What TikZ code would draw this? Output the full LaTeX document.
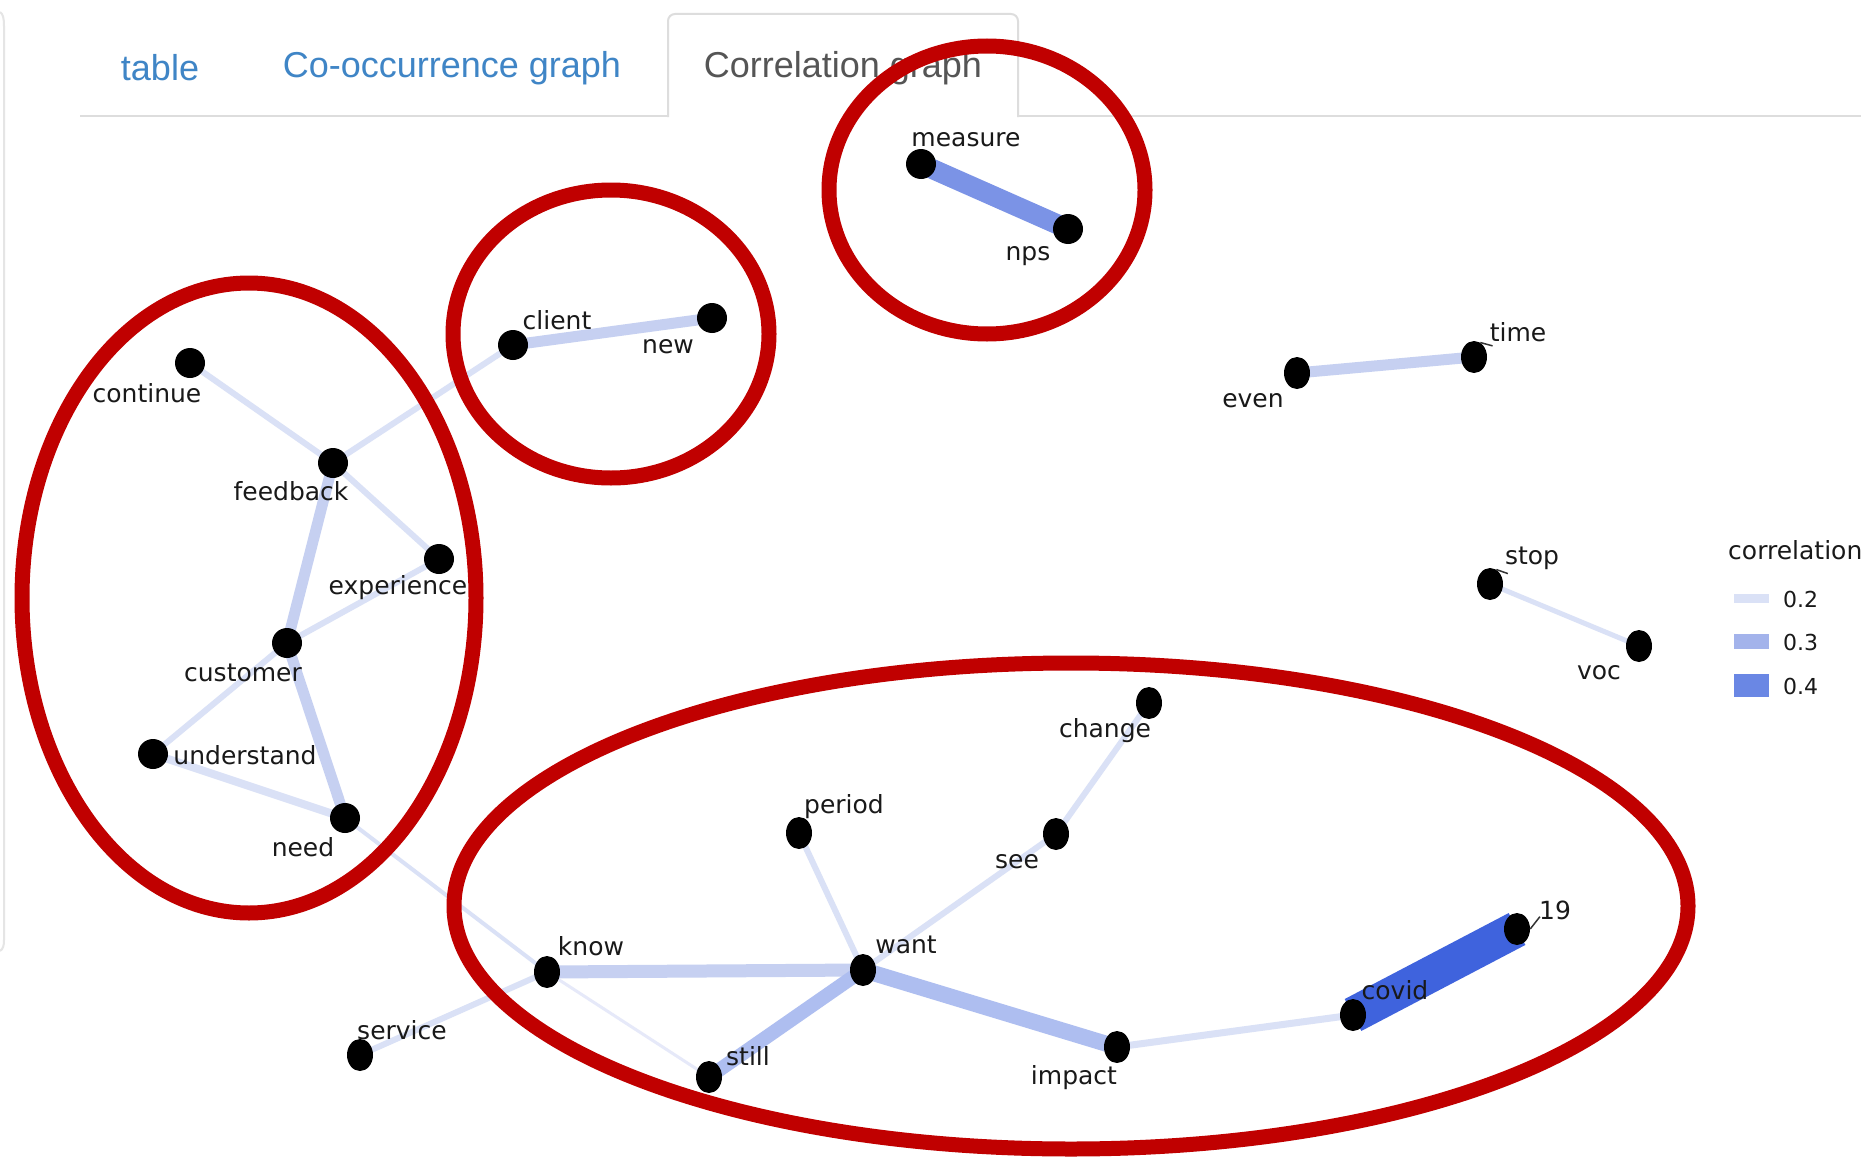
\documentclass[tikz,border=0pt]{standalone}
\usepackage{fontspec}
\setmainfont{DejaVu Sans}
\newfontfamily\tabfont{Liberation Sans}
\usetikzlibrary{backgrounds,shapes.geometric}
\definecolor{ringred}{HTML}{C00000}
\definecolor{cA}{HTML}{E6E9F9}
\definecolor{cB}{HTML}{DAE1F6}
\definecolor{cC}{HTML}{C6D0F1}
\definecolor{cD}{HTML}{AEBEF0}
\definecolor{cE}{HTML}{7B93E6}
\definecolor{cF}{HTML}{3F63DD}
\definecolor{legB}{HTML}{A3B3EB}
\definecolor{legC}{HTML}{6A87E4}
\definecolor{tabblue}{HTML}{3F85C6}
\definecolor{tabgrey}{HTML}{555555}
\definecolor{tabline}{HTML}{DDDDDD}
\begin{document}
\begin{tikzpicture}[x=1pt,y=-1pt,
  dot/.style={circle,fill=black,inner sep=0pt,minimum size=30pt},
  edot/.style={ellipse,fill=black,inner sep=0pt,minimum width=26pt,minimum height=32pt},
  lbl/.style={font=\fontsize{25}{29}\selectfont,text=black!90,inner sep=0pt},
  tab/.style={font=\tabfont\fontsize{36}{42}\selectfont,inner sep=0pt},
  ring/.style={draw=ringred,line width=15pt},
  eA/.style={draw=cA,line width=3pt},
  eB/.style={draw=cB,line width=6pt},
  eC/.style={draw=cC,line width=11pt},
  eD/.style={draw=cD,line width=15pt},
  eE/.style={draw=cE,line width=20pt},
  eF/.style={draw=cF,line width=36pt},
  leader/.style={draw=black!80,line width=1.5pt}]
\useasboundingbox (0,0) rectangle (1861,1164);

% left panel edge
\draw[draw=black!10,line width=2pt] (0,12) .. controls (3,14) and (4,18) .. (4,26) -- (4,940) .. controls (4,946) and (3,949) .. (0,951);

% tabs
\draw[tabline,line width=2pt] (80,116) -- (668,116);
\draw[tabline,line width=2pt] (1018,116) -- (1861,116);
\draw[tabline,line width=2pt,rounded corners=7pt] (668,117) -- (668,14) -- (1018,14) -- (1018,117);
\node[tab,text=tabblue] (t1) at (160,68) {table};
\node[tab,text=tabblue] (t2) at (452,68) {Co-occurrence graph};
\node[tab,text=tabgrey] (t3) at (843,68) {Correlation graph};

% nodes
\node[dot] (continue) at (190,363) {};
\node[dot] (feedback) at (333,463) {};
\node[dot] (experience) at (439,559) {};
\node[dot] (customer) at (287,643) {};
\node[dot] (understand) at (153,754) {};
\node[dot] (need) at (345,818) {};
\node[dot] (client) at (513,345) {};
\node[dot] (new) at (712,318) {};
\node[dot] (measure) at (921,164) {};
\node[dot] (nps) at (1068,229) {};
\node[edot] (even) at (1297,373) {};
\node[edot] (time) at (1474,357) {};
\node[edot] (stop) at (1490,584) {};
\node[edot] (voc) at (1639,646) {};
\node[edot] (change) at (1149,703) {};
\node[edot] (period) at (799,833) {};
\node[edot] (see) at (1056,834) {};
\node[edot] (want) at (863,970) {};
\node[edot] (know) at (547,972) {};
\node[edot] (service) at (360,1055) {};
\node[edot] (still) at (709,1077) {};
\node[edot] (impact) at (1117,1047) {};
\node[edot] (covid) at (1353,1015) {};
\node[edot] (n19) at (1517,929) {};

% edges
\begin{pgfonlayer}{background}
\fill[white] (0,0) rectangle (1861,1164);
\draw[eB] (continue.center) -- (feedback.center);
\draw[eB] (feedback.center) -- (client.center);
\draw[eB] (feedback.center) -- (experience.center);
\draw[eC] (feedback.center) -- (customer.center);
\draw[eB] (customer.center) -- (experience.center);
\draw[eB] (customer.center) -- (understand.center);
\draw[eC] (customer.center) -- (need.center);
\draw[eB,line width=8pt] (understand.center) -- (need.center);
\draw[eB,line width=4pt] (need.center) -- (know.center);
\draw[eC] (client.center) -- (new.center);
\draw[eE] (measure.center) -- (nps.center);
\draw[eC] (even.center) -- (time.center);
\draw[eB,line width=5pt] (stop.center) -- (voc.center);
\draw[eB] (change.center) -- (see.center);
\draw[eB] (see.center) -- (want.center);
\draw[eB] (period.center) -- (want.center);
\draw[eC,line width=13pt] (know.center) -- (want.center);
\draw[eB] (know.center) -- (service.center);
\draw[eA] (know.center) -- (still.center);
\draw[eD,line width=14pt] (want.center) -- (still.center);
\draw[eD,line width=16pt] (want.center) -- (impact.center);
\draw[eB,line width=7pt] (impact.center) -- (covid.center);
\draw[eF] (covid.center) -- (n19.center);
\end{pgfonlayer}

% labels
\node[lbl] (l-continue) at (147,393) {continue};
\node[lbl] (l-feedback) at (291,491) {feedback};
\node[lbl] (l-experience) at (398,588) {experience};
\node[lbl] (l-customer) at (243,673) {customer};
\node[lbl] (l-understand) at (245,755) {understand};
\node[lbl] (l-need) at (303,847) {need};
\node[lbl] (l-client) at (557,320) {client};
\node[lbl] (l-new) at (668,347) {new};
\node[lbl] (l-measure) at (966,140) {measure};
\node[lbl] (l-nps) at (1028,256) {nps};
\node[lbl] (l-even) at (1253,401) {even};
\node[lbl] (l-time) at (1518,332) {time};
\node[lbl] (l-stop) at (1532,558) {stop};
\node[lbl] (l-voc) at (1599,673) {voc};
\node[lbl] (l-change) at (1105,731) {change};
\node[lbl] (l-period) at (844,807) {period};
\node[lbl] (l-see) at (1017,862) {see};
\node[lbl] (l-want) at (906,945) {want};
\node[lbl] (l-know) at (591,946) {know};
\node[lbl] (l-service) at (402,1030) {service};
\node[lbl] (l-still) at (748,1056) {still};
\node[lbl] (l-impact) at (1074,1078) {impact};
\node[lbl] (l-covid) at (1395,990) {covid};
\node[lbl] (l-19) at (1555,910) {19};

% leader ticks
\draw[leader] ([shift={(-3,-3)}]time.north east) -- ([shift={(3,4)}]l-time.south west);
\draw[leader] ([shift={(-3,-3)}]stop.north east) -- ([shift={(3,4)}]l-stop.south west);
\draw[leader] (n19.east) -- ([shift={(1,-3)}]l-19.south west);

% legend
\node[lbl,anchor=west] (leg) at (1728,550) {correlation};
\fill[cB] (1734,594) rectangle (1769,603);
\fill[legB] (1734,634) rectangle (1769,649);
\fill[legC] (1734,674) rectangle (1769,697);
\node[lbl,anchor=west,font=\fontsize{22}{26}\selectfont] (leg2) at (1783,599) {0.2};
\node[lbl,anchor=west,font=\fontsize{22}{26}\selectfont] (leg3) at (1783,642) {0.3};
\node[lbl,anchor=west,font=\fontsize{22}{26}\selectfont] (leg4) at (1783,686) {0.4};

% red rings
\draw[ring] (249,598) ellipse [x radius=227, y radius=315];
\draw[ring] (611,334) ellipse [x radius=158, y radius=144];
\draw[ring] (987,190) ellipse [x radius=158, y radius=144];
\draw[ring] (1071,906) ellipse [x radius=617, y radius=243];
\end{tikzpicture}
\end{document}
